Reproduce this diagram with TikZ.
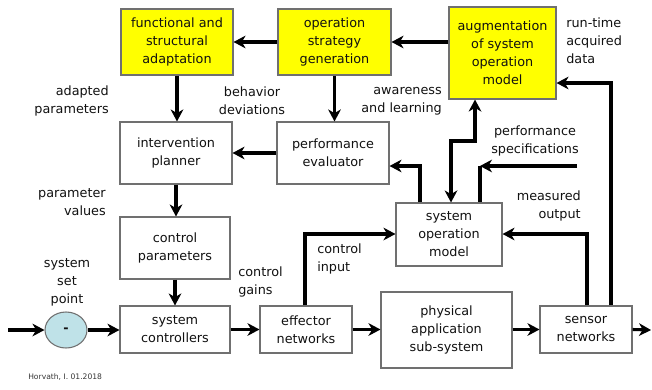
\documentclass[tikz,border=0pt]{standalone}
\usepackage{fontspec}
\setmainfont{DejaVu Sans}
\usetikzlibrary{arrows.meta,shapes.geometric}
\definecolor{txt}{HTML}{111111}
\definecolor{bord}{HTML}{707070}
\definecolor{yel}{HTML}{FFFF00}
\definecolor{sumfill}{HTML}{BFE2E8}
\tikzset{
  box/.style={draw=bord, line width=0.8pt, fill=white, inner sep=0pt, align=center, text=txt,
    font=\fontsize{9.6}{13.5}\selectfont},
  ybox/.style={box, fill=yel},
  lbl/.style={inner sep=0pt, text=txt, font=\fontsize{9.6}{13.5}\selectfont},
  conn/.style={line width=2.3pt, black, -{Stealth[length=9pt,width=9.5pt,inset=2.8pt]}},
  bconn/.style={line width=2.3pt, black, {Stealth[length=9pt,width=9.5pt,inset=2.8pt]}-{Stealth[length=9pt,width=9.5pt,inset=2.8pt]}},
  pline/.style={line width=2.3pt, black},
}
\begin{document}
\begin{tikzpicture}[x=0.75pt,y=-0.75pt]
\useasboundingbox (0,0) rectangle (652,389);
% boxes
\node[ybox, minimum width=84pt, minimum height=49.5pt] (fsa) at (177,42) {functional and\\structural\\adaptation};
\node[ybox, minimum width=84.75pt, minimum height=49.5pt] (osg) at (334.5,42) {operation\\strategy\\generation};
\node[ybox, minimum width=80.25pt, minimum height=69pt] (aug) at (502.5,53) {augmentation\\of system\\operation\\model};
\node[box, minimum width=84pt, minimum height=46.5pt] (ip) at (176,153) {intervention\\planner};
\node[box, minimum width=84pt, minimum height=46.5pt] (pe) at (333,153) {performance\\evaluator};
\node[box, minimum width=82.5pt, minimum height=46.5pt] (cp) at (175,248) {control\\parameters};
\node[box, minimum width=82.5pt, minimum height=35.25pt] (sc) at (175,329.5) {system\\controllers};
\node[box, minimum width=69pt, minimum height=35.25pt] (en) at (306,329.5) {effector\\networks};
\node[box, minimum width=98.25pt, minimum height=57pt] (pas) at (446.5,330) {physical\\application\\sub-system};
\node[box, minimum width=69pt, minimum height=35.25pt] (sn) at (586,329.5) {sensor\\networks};
\node[box, minimum width=79.5pt, minimum height=47.25pt] (som) at (449,234.5) {system\\operation\\model};
\node[ellipse, draw=bord, line width=0.8pt, fill=sumfill, minimum width=31.5pt, minimum height=27pt, inner sep=0pt, text=txt, font=\fontsize{9.6}{13.5}\selectfont\bfseries] (sum) at (66,330) {-};
% coordinates
\coordinate (a1) at (475,141);
\coordinate (a2) at (451,141);
\coordinate (b1) at (420,166);
\coordinate (c0) at (577,166);
\coordinate (c1) at (480,166);
\coordinate (d1) at (611,83);
\coordinate (e1) at (587,234);
\coordinate (f1) at (305,234);
\coordinate (in) at (8,330);
\coordinate (out) at (651,330);
% connectors
\draw[conn] (osg.west) -- (fsa.east);
\draw[conn] (aug.west |- osg.east) -- (osg.east);
\draw[conn] (fsa.south) -- (fsa.south |- ip.north);
\draw[conn] (osg.south) -- (osg.south |- pe.north);
\draw[conn] (pe.west) -- (ip.east);
\draw[bconn] (aug.south -| a1) -- (a1) -- (a2) -- (som.north -| a2);
\draw[conn] (som.north -| b1) -- (b1) -- (pe.east |- b1);
\draw[conn] (c0) -- (c1);
\draw[pline] (c1) -- (som.north -| c1);
\draw[conn] (sn.north -| d1) -- (d1) -- (aug.east |- d1);
\draw[conn] (sn.north -| e1) -- (e1) -- (som.east |- e1);
\draw[conn] (en.north -| f1) -- (f1) -- (som.west |- f1);
\draw[conn] (ip.south) -- (ip.south |- cp.north);
\draw[conn] (cp.south) -- (cp.south |- sc.north);
\draw[conn] (in) -- (sum.west);
\draw[conn] (sum.east) -- (sc.west |- sum.east);
\draw[conn] (sc.east) -- (en.west);
\draw[conn] (en.east) -- (pas.west |- en.east);
\draw[conn] (pas.east |- sn.west) -- (sn.west);
\draw[conn] (sn.east) -- (out);
% labels
\node[lbl, align=right, anchor=east] (l1) at (109,101) {adapted\\parameters};
\node[lbl, align=center] (l2) at (252,101) {behavior\\deviations};
\node[lbl, align=right, anchor=east] (l3) at (442,101) {awareness\\and learning};
\node[lbl, align=left, anchor=west] (l4) at (566,41) {run-time\\acquired\\data};
\node[lbl, align=center] (l5) at (535,141) {performance\\specifications};
\node[lbl, align=right, anchor=east] (l6) at (581,206) {measured\\output};
\node[lbl, align=left, anchor=west] (l7) at (317,259) {control\\input};
\node[lbl, align=left, anchor=west] (l8) at (238,281.5) {control\\gains};
\node[lbl, align=center] (l9) at (67,282) {system\\set\\point};
\node[lbl, align=right, anchor=east] (l10) at (106,202) {parameter\\values};
\node[inner sep=0pt, anchor=west, text=txt!85, font=\fontsize{5.7}{7}\selectfont] (cr) at (28,377) {Horvath, I. 01.2018};
\end{tikzpicture}
\end{document}
